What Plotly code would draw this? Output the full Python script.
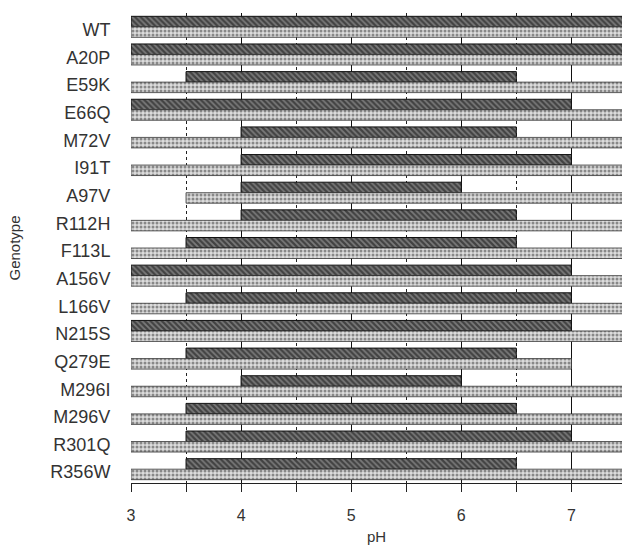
import plotly.graph_objects as go

genotypes = ["WT", "A20P", "E59K", "E66Q", "M72V", "I91T", "A97V", "R112H", "F113L",
             "A156V", "L166V", "N215S", "Q279E", "M296I", "M296V", "R301Q", "R356W"]
dark_start = [3.0, 3.0, 3.5, 3.0, 4.0, 4.0, 4.0, 4.0, 3.5, 3.0, 3.5, 3.0, 3.5, 4.0, 3.5, 3.5, 3.5]
dark_end = [7.5, 7.5, 6.5, 7.0, 6.5, 7.0, 6.0, 6.5, 6.5, 7.0, 7.0, 7.0, 6.5, 6.0, 6.5, 7.0, 6.5]
light_start = [3.0, 3.0, 3.0, 3.0, 3.0, 3.0, 3.5, 3.0, 3.0, 3.0, 3.0, 3.0, 3.0, 3.0, 3.0, 3.0, 3.0]
light_end = [7.5, 7.5, 7.5, 7.5, 7.5, 7.5, 7.5, 7.5, 7.5, 7.5, 7.5, 7.5, 7.0, 7.5, 7.5, 7.5, 7.5]
x_ticks = [3, 4, 5, 6, 7]

dark_len = [e - s for s, e in zip(dark_start, dark_end)]
light_len = [e - s for s, e in zip(light_start, light_end)]

fig = go.Figure()
fig.add_trace(go.Bar(
    y=genotypes, x=dark_len, base=dark_start, orientation="h",
    marker=dict(color="#5a5a5a",
                line=dict(color="#111", width=1),
                pattern=dict(shape="\\", fgcolor="#0a0a0a", bgcolor="#7a7a7a", size=4, solidity=0.55)),
    showlegend=False, hoverinfo="skip",
))
fig.add_trace(go.Bar(
    y=genotypes, x=light_len, base=light_start, orientation="h",
    marker=dict(color="#d0d0d0",
                line=dict(color="#333", width=0.8),
                pattern=dict(shape=".", fgcolor="#333", bgcolor="#dcdcdc", size=4, solidity=0.45)),
    showlegend=False, hoverinfo="skip",
))

font_family = "Liberation Sans, Arial, sans-serif"
fig.update_layout(
    width=622, height=550,
    margin=dict(l=131, r=0, t=13, b=67),
    paper_bgcolor="white", plot_bgcolor="white",
    barmode="group", bargap=0.24, bargroupgap=0.0,
    font=dict(family=font_family, color="#333"),
    xaxis=dict(
        range=[3, 7.46], tickvals=x_ticks, ticktext=[str(v) for v in x_ticks],
        automargin=False,
        showgrid=True, gridcolor="#111", gridwidth=1, griddash="solid",
        minor=dict(dtick=0.5, tick0=3, showgrid=True, gridcolor="#222", griddash="dot",
                   ticks="outside", ticklen=8, tickcolor="#222"),
        ticks="outside", ticklen=8, tickcolor="#222",
        ticklabelstandoff=10,
        showline=True, linecolor="#222", linewidth=1,
        tickfont=dict(size=16, color="#333"),
        title=dict(text="pH", font=dict(size=15, color="#333"), standoff=8),
        zeroline=False, fixedrange=True,
    ),
    yaxis=dict(
        type="category", autorange="reversed", automargin=False,
        showgrid=False, ticks="outside", ticklen=16, tickcolor="rgba(0,0,0,0)",
        ticklabelshift=-3,
        tickfont=dict(size=18, color="#333"),
        title=dict(text="Genotype", font=dict(size=15, color="#333"), standoff=26),
        showline=False, zeroline=False, fixedrange=True,
    ),
)

fig.write_html(
    "out.html",
    config={"displayModeBar": False},
    post_script="document.body.style.margin='0';document.body.style.overflow='hidden';",
)
